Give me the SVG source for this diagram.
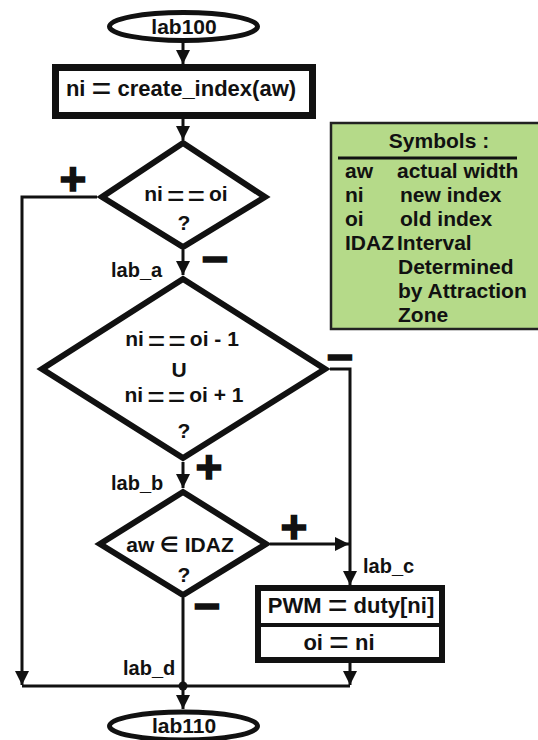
<svg xmlns="http://www.w3.org/2000/svg" width="538" height="740" viewBox="0 0 538 740">
<style>
text{font-family:"Liberation Sans",Arial,"DejaVu Sans",sans-serif;font-weight:bold;fill:#111}
.t22{font-size:22px}
.t21{font-size:21px}
.t20{font-size:20px}
.mid{text-anchor:middle}
.eqb{font-size:34px;font-weight:normal}
.eqd{font-size:30px;font-weight:normal}
.sign{font-size:46px;text-anchor:middle;stroke:#111;stroke-width:1.5}
.shape{fill:#fff;stroke:#111}
.conn{fill:none;stroke:#111;stroke-width:3}
</style>
<defs>
<marker id="arr" markerUnits="userSpaceOnUse" markerWidth="14" markerHeight="14" viewBox="0 0 14 14" refX="14" refY="7" orient="auto"><path d="M0,0 L14,7 L0,14 z" fill="#111"/></marker>
</defs>
<rect x="0" y="0" width="538" height="740" fill="#fff"/>

<g id="connectors">
<path class="conn" d="M183,43 V64" marker-end="url(#arr)"/>
<path class="conn" d="M183,119 V140" marker-end="url(#arr)"/>
<path class="conn" d="M183,250 V275" marker-end="url(#arr)"/>
<path class="conn" d="M97,197 H22 V685" marker-end="url(#arr)"/>
<path class="conn" d="M183,462 V488" marker-end="url(#arr)"/>
<path class="conn" d="M330,369 H350 V585" marker-end="url(#arr)"/>
<path class="conn" d="M270,544 H349" marker-end="url(#arr)"/>
<path class="conn" d="M183,598 V686"/>
<path class="conn" d="M350,663 V685" marker-end="url(#arr)"/>
<path class="conn" d="M22,686 H350"/>
<path class="conn" d="M183,686 V709" marker-end="url(#arr)"/>
<circle cx="183" cy="686" r="4.5" fill="#111"/>
<text class="sign" x="73" y="195">+</text>
<text class="sign" x="215" y="275">−</text>
<text class="sign" x="340" y="373">−</text>
<text class="sign" x="209" y="483">+</text>
<text class="sign" x="294" y="543">+</text>
<text class="sign" x="207" y="622">−</text>
<text class="t20" x="111" y="277">lab_a</text>
<text class="t20" x="111" y="490">lab_b</text>
<text class="t20" x="363" y="573">lab_c</text>
<text class="t20" x="123" y="675">lab_d</text>
</g>

<g id="lab100">
<ellipse class="shape" cx="183.5" cy="26.5" rx="74" ry="14" stroke-width="5"/>
<text class="t21 mid" x="184" y="34">lab100</text>
</g>

<g id="create_index">
<rect class="shape" x="55.5" y="67.5" width="257" height="48" stroke-width="7"/>
<text class="t22 mid" x="181" y="96">ni <tspan class="eqb" dy="4">=</tspan><tspan dy="-4"> create_index(aw)</tspan></text>
</g>

<g id="decision1">
<polygon class="shape" points="183,143 265,197 183,247 102,197" stroke-width="6"/>
<text class="t21 mid" x="186" y="201">ni<tspan class="eqd" dx="4" dy="5">=</tspan><tspan class="eqd" dx="3">=</tspan><tspan dx="4" dy="-5">oi</tspan></text>
<text class="t21 mid" x="184" y="230">?</text>
</g>

<g id="decision2">
<polygon class="shape" points="183,279 325,369 183,458 42,369" stroke-width="6"/>
<text class="t21 mid" x="182" y="346">ni<tspan class="eqd" dx="4" dy="5">=</tspan><tspan class="eqd" dx="3">=</tspan><tspan dx="4" dy="-5">oi - 1</tspan></text>
<text class="t21 mid" x="179" y="377">U</text>
<text class="t21 mid" x="184" y="402">ni<tspan class="eqd" dx="4" dy="5">=</tspan><tspan class="eqd" dx="3">=</tspan><tspan dx="4" dy="-5">oi + 1</tspan></text>
<text class="t21 mid" x="184" y="438">?</text>
</g>

<g id="decision3">
<polygon class="shape" points="183,492 266,544 183,595 100,544" stroke-width="6"/>
<text class="t21 mid" x="180" y="552">aw ∈ IDAZ</text>
<text class="t21 mid" x="184" y="582">?</text>
</g>

<g id="pwm">
<rect class="shape" x="258" y="588" width="184" height="72" stroke-width="6"/>
<line x1="258" y1="625" x2="442" y2="625" stroke="#111" stroke-width="4"/>
<text class="t22 mid" x="351" y="613">PWM <tspan class="eqb" dy="4">=</tspan><tspan dy="-4"> duty[ni]</tspan></text>
<text class="t22 mid" x="339" y="650">oi <tspan class="eqb" dy="4">=</tspan><tspan dy="-4"> ni</tspan></text>
</g>

<g id="lab110">
<ellipse class="shape" cx="183.5" cy="726" rx="74" ry="14" stroke-width="5"/>
<text class="t21 mid" x="184" y="733">lab110</text>
</g>

<g id="legend">
<rect x="331" y="123" width="215" height="206" fill="#b5da89" stroke="#222" stroke-width="2.5"/>
<text class="t21 mid" x="439" y="148">Symbols :</text>
<line x1="338" y1="158" x2="517" y2="158" stroke="#111" stroke-width="3"/>
<text class="t21" x="345" y="178">aw</text>
<text class="t21" x="397" y="178">actual width</text>
<text class="t21" x="345" y="202">ni</text>
<text class="t21" x="400" y="202">new index</text>
<text class="t21" x="345" y="226">oi</text>
<text class="t21" x="400" y="226">old index</text>
<text class="t21" x="345" y="250">IDAZ</text>
<text class="t21" x="397" y="250">Interval</text>
<text class="t21" x="398" y="274">Determined</text>
<text class="t21" x="398" y="298">by Attraction</text>
<text class="t21" x="398" y="322">Zone</text>
</g>
</svg>
